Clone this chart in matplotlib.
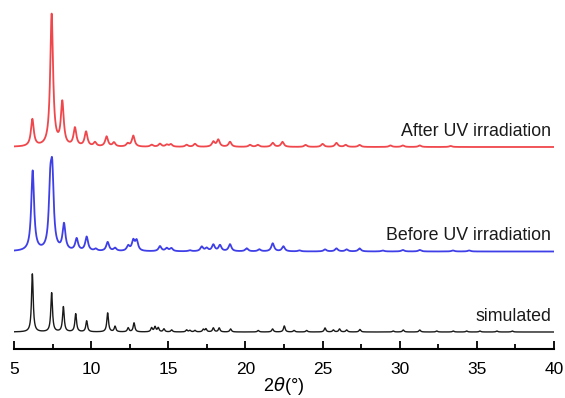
import matplotlib.pyplot as plt
import numpy as np

plt.rcParams['font.family'] = ['Liberation Sans', 'DejaVu Sans']

# peak positions (2theta, deg) and heights (arb. units)
after_pos = [6.19, 7.44, 8.13, 8.95, 9.67, 10.25, 11.0, 11.48, 12.37, 12.73,
             13.92, 14.46, 14.9, 15.17, 16.19, 16.73, 17.92, 18.24, 19.0, 20.3,
             20.8, 21.77, 22.4, 23.9, 25.0, 25.9, 26.5, 27.4, 29.4, 30.2, 31.3, 33.3]
after_int = [27, 132, 43, 18, 14.5, 4, 10, 4, 3, 11,
             2, 3, 2, 2.5, 2, 3, 5, 7, 5, 2,
             2, 4, 5, 2, 3, 4, 2, 2, 1.5, 1.5, 1.5, 1]

before_pos = [6.21, 7.35, 7.48, 8.24, 9.06, 9.71, 10.3, 11.07, 11.55, 12.4,
              12.73, 12.95, 14.46, 14.9, 15.2, 16.4, 17.17, 17.49, 17.92, 18.35,
              19.0, 20.08, 20.9, 21.77, 22.46, 23.5, 25.16, 25.9, 26.56, 27.4,
              28.9, 30.2, 31.3, 33.45, 34.5]
before_int = [80, 55, 68, 26, 12, 14, 2, 9, 3, 5,
              10, 10, 5, 3, 3, 1, 4.5, 3, 6.5, 6,
              7, 3, 2, 8, 5, 1, 2, 3, 2, 3,
              1, 1.5, 1.5, 1, 1]

sim_pos = [6.19, 7.44, 8.2, 9.0, 9.71, 11.07, 11.55, 12.4, 12.78, 13.92,
           14.14, 14.35, 14.72, 15.22, 16.19, 16.4, 16.73, 17.27, 17.44, 17.92,
           18.3, 19.04, 20.83, 21.76, 22.52, 23.15, 23.97, 25.16, 25.7, 26.1,
           26.56, 27.42, 29.58, 30.23, 31.3, 32.4, 33.47, 34.34, 35.2, 36.3, 37.3]
sim_int = [58, 39, 25, 18, 11, 19, 5.5, 4, 9, 4,
           5, 4, 3, 2, 2, 1.5, 1.5, 2.5, 3, 4,
           4, 3, 1.5, 3, 6, 1.5, 1.5, 4, 2, 3,
           2, 2.5, 1, 2, 2, 1, 1, 1, 1, 1, 1]

labels = ['After UV irradiation', 'Before UV irradiation', 'simulated']


def pattern(tt, pos, inten, w):
    y = np.zeros_like(tt)
    for p, h in zip(pos, inten):
        y += h / (1 + ((tt - p) / w) ** 2)
    return y


tt = np.linspace(5, 40, 4001)

fig = plt.figure(figsize=(5.65, 3.98), dpi=100)
ax = fig.add_axes([14 / 565, 1 - 349 / 398, 540 / 565, 349 / 398])

traces = [
    (after_pos, after_int, 0.11, 202, '#f0474c', 1.3),
    (before_pos, before_int, 0.11, 97.5, '#3f3fe8', 1.3),
    (sim_pos, sim_int, 0.065, 17, '#1a1a1a', 1.0),
]
for (pos, inten, w, off, col, lw), lab in zip(traces, labels):
    ax.plot(tt, pattern(tt, pos, inten, w) + off, color=col, lw=lw)
    ax.text(39.8, off + 7, lab, ha='right', va='bottom', fontsize=12.8, color='#1a1a1a')

ax.set_xlim(5, 40)
ax.set_ylim(0, 349)
for s in ['left', 'right', 'top']:
    ax.spines[s].set_visible(False)
ax.spines['bottom'].set_linewidth(1.5)
ax.set_yticks([])
ax.set_xticks(np.arange(5, 41, 5))
ax.set_xticks(np.arange(7.5, 40, 5), minor=True)
ax.tick_params(axis='x', which='major', direction='in', length=6, width=1.3,
               labelsize=12.5, pad=9)
ax.tick_params(axis='x', which='minor', direction='in', length=3.5, width=1.3)
ax.set_xlabel(r'2$\theta$(°)', fontsize=13)
ax.xaxis.set_label_coords(0.5, -0.075)
ax.patch.set_alpha(0)

fig.savefig('out.png', dpi=100)
